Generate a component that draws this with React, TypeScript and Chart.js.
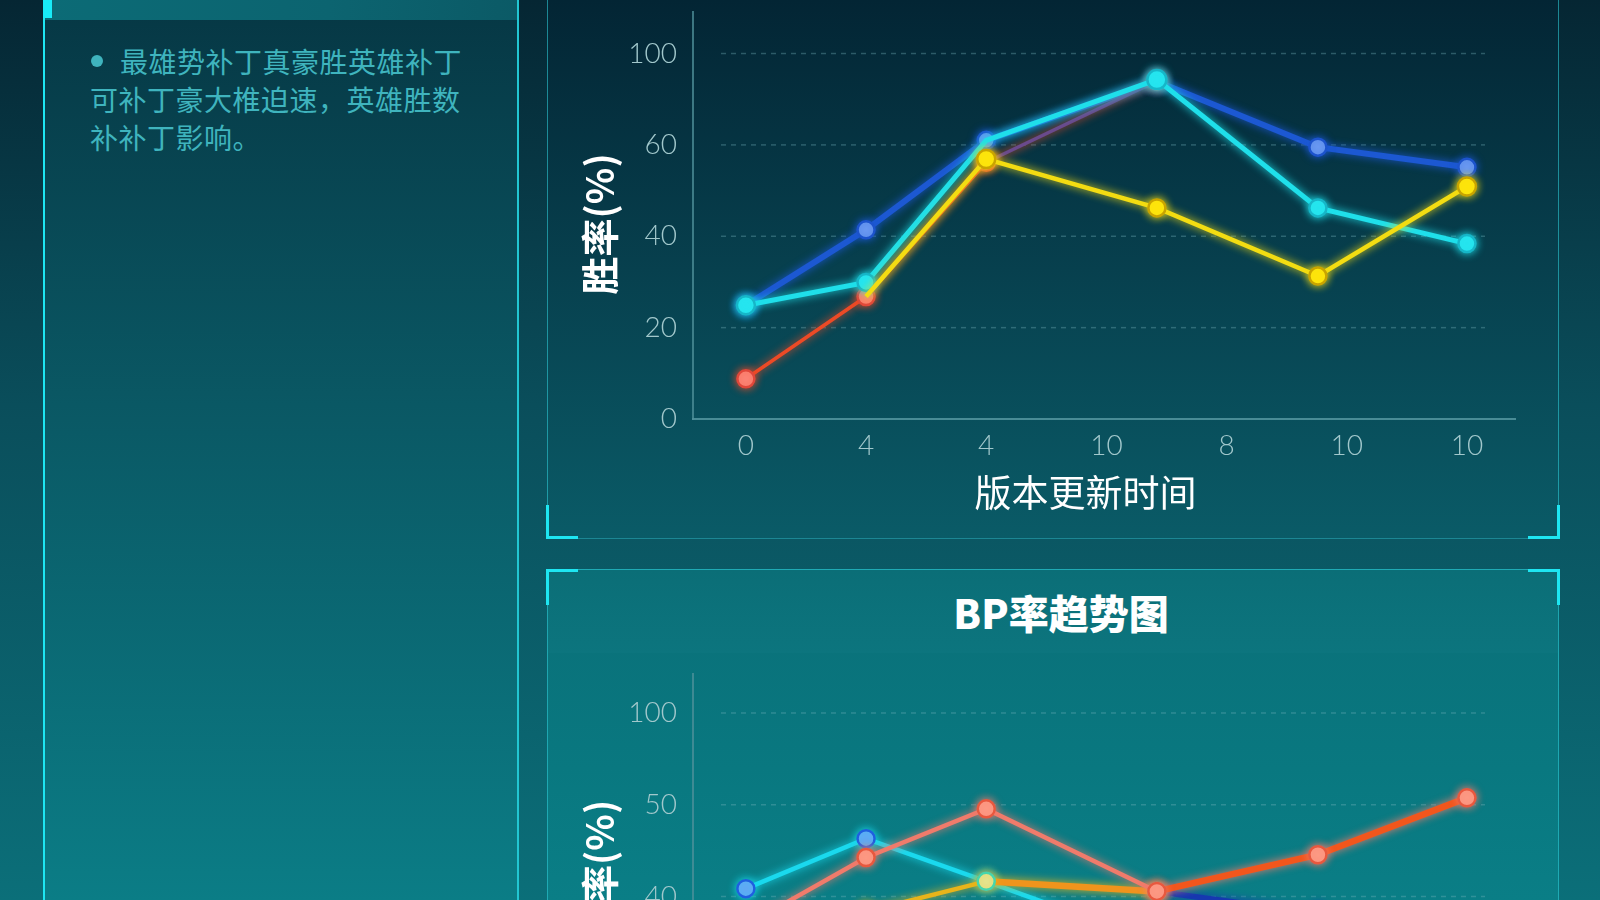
import React, { useEffect, useRef } from "react";
import { Chart, registerables } from "chart.js";

Chart.register(...registerables);

// ---------- data ----------
const xTickLabels = ["0", "4", "4", "10", "8", "10", "10"];
const xPositions = [0, 1, 2, 3.42, 4.76, 6];

// win-rate chart (axis units: ticks equally spaced, top tick labelled 100)
const winYTickValues = [0, 20, 40, 60, 80];
const winYTickLabels = ["0", "20", "40", "60", "100"];
const winBlue = [24.9, 41.4, 61.0, 73.9, 59.5, 55.1];
const winCyan = [24.9, 29.9, 61.0, 74.3, 46.2, 38.4];
const winRed = [8.8, 26.8, 56.2, 74.0, null, null];
const winYellow = [null, 26.8, 56.9, 46.2, 31.3, 50.9];

// BP-rate chart
const bpYTickValues = [0, 20, 40, 60, 80];
const bpYTickLabels = ["20", "30", "40", "50", "100"];
const bpCyan = [41.7, 52.6, 43.3, 29.8, 24.0, 20.0];
const bpSalmon = [33.7, 48.5, 59.1, 41.1, 49.1, 61.5];
const bpGold = [28.0, 36.7, 43.3, 41.1, null, null];
const bpNavy = [null, null, null, 41.1, 36.3, 31.0];

const leftText = ["最雄势补丁真豪胜英雄补丁", "可补丁豪大椎迫速，英雄胜数", "补补丁影响。"];

// ---------- helpers ----------
const toPoints = (vals: (number | null)[]) =>
  vals.map((v, i) => ({ x: xPositions[i], y: v }));

const CJK = '"Noto Sans CJK SC", "Noto Sans", sans-serif';
const NUM = 'Lato, "Noto Sans", sans-serif';

const dashedGrid = {
  id: "dashedGrid",
  beforeDatasetsDraw(chart: any) {
    const { ctx, chartArea, scales } = chart;
    const y = scales.y;
    ctx.save();
    ctx.setLineDash([5, 5]);
    ctx.strokeStyle = "rgba(120,180,190,0.35)";
    ctx.lineWidth = 1.5;
    y.ticks.forEach((t: any) => {
      if (t.value === 0) return;
      const py = y.getPixelForValue(t.value);
      ctx.beginPath();
      ctx.moveTo(chartArea.left + 28, py);
      ctx.lineTo(chartArea.right - 30, py);
      ctx.stroke();
    });
    ctx.restore();
  },
};

const glow = {
  id: "glow",
  beforeDatasetDraw(chart: any, args: any) {
    const ds = chart.data.datasets[args.index];
    chart.ctx.save();
    chart.ctx.shadowColor = ds.glowColor || "rgba(0,0,0,0)";
    chart.ctx.shadowBlur = 8;
  },
  afterDatasetDraw(chart: any) {
    chart.ctx.restore();
  },
};

function makeOptions(yMax: number, yVals: number[], yLabels: string[], yTitle: string) {
  const tickFont = { family: NUM, size: 28, weight: 300 as any };
  return {
    responsive: false,
    maintainAspectRatio: false,
    animation: false as const,
    layout: { padding: { top: 10, right: 44, left: 0, bottom: 0 } },
    plugins: { legend: { display: false }, tooltip: { enabled: false } },
    elements: { line: { tension: 0 } },
    scales: {
      x: {
        type: "linear" as const,
        bounds: "data" as const,
        min: -0.44,
        max: 6.4,
        afterBuildTicks: (s: any) => {
          s.ticks = xTickLabels.map((_, i) => ({ value: i }));
        },
        afterFit: (s: any) => {
          s.height = 120;
          s.paddingLeft = 0;
          s.paddingRight = 0;
        },
        ticks: {
          callback: (v: any) => xTickLabels[v] ?? "",
          color: "#a2c8cc",
          font: tickFont,
          padding: 10,
          maxRotation: 0,
          autoSkip: false,
        },
        grid: { display: false, drawTicks: false },
        border: { display: true, color: "rgba(95,160,170,0.75)", width: 2 },
        title: {
          display: true,
          text: "版本更新时间　",
          color: "#ffffff",
          font: { family: CJK, size: 37, weight: 400 as any },
          padding: { top: 0, bottom: 24 },
        },
      },
      y: {
        type: "linear" as const,
        bounds: "data" as const,
        min: 0,
        max: yMax,
        afterBuildTicks: (s: any) => {
          s.ticks = yVals.map((v) => ({ value: v }));
        },
        afterFit: (s: any) => {
          s.width = 146;
          s.paddingTop = 0;
          s.paddingBottom = 0;
        },
        ticks: {
          callback: (v: any) => {
            const i = yVals.indexOf(v);
            return i >= 0 ? yLabels[i] : "";
          },
          color: "#a2c8cc",
          font: tickFont,
          padding: 16,
          autoSkip: false,
        },
        grid: { display: false, drawTicks: false },
        border: { display: true, color: "rgba(80,145,155,0.75)", width: 2 },
        title: {
          display: true,
          text: yTitle,
          color: "#ffffff",
          font: { family: CJK, size: 38, weight: 700 as any },
          padding: { top: 30, bottom: 0 },
        },
      },
    },
  };
}

function lineDs(
  data: (number | null)[],
  color: string,
  width: number,
  fill: string | string[],
  border: string | string[],
  extra: any = {}
) {
  return {
    data: toPoints(data),
    borderColor: color,
    borderWidth: width,
    pointRadius: 8.5,
    pointBorderWidth: 2.5,
    pointBackgroundColor: fill,
    pointBorderColor: border,
    spanGaps: false,
    fill: false,
    glowColor: color,
    ...extra,
  };
}

function ChartCanvas({ config, style, w, h }: any) {
  const ref = useRef<HTMLCanvasElement | null>(null);
  useEffect(() => {
    if (!ref.current) return;
    const c = new Chart(ref.current, config);
    return () => c.destroy();
  }, []);
  return <canvas ref={ref} width={w} height={h} style={{ position: "absolute", width: w, height: h, ...style }} />;
}

const winConfig = {
  type: "line" as const,
  data: {
    datasets: [
      lineDs(winYellow, "#f3dc12", 4.5, "#ffe60a", "#c9a400", {
        pointRadius: [0, 0, 9, 8.5, 8.5, 9],
      }),
      lineDs(winCyan, "#1fdfea", 5, "#27e6f0", "#16b6c8", {
        pointRadius: [9, 8.5, 0, 9.5, 8.5, 8.5],
      }),
      lineDs(winRed, "#ec4a26", 3.5, "#ff8f85", "#e0473a", {
        segment: { borderColor: (c: any) => (c.p0DataIndex === 2 ? "#6a4a8c" : "#ec4a26") },
      }),
      lineDs(winBlue, "#1c58d2", 6, "#7aa6f8", "#1c53cc"),
    ],
  },
  options: makeOptions(89.2, winYTickValues, winYTickLabels, "胜率(%)  "),
  plugins: [dashedGrid, glow],
};

const bpConfig = {
  type: "line" as const,
  data: {
    datasets: [
      lineDs(bpSalmon, "#f07b6b", 4.5, "#ff9f88", "#e8583e", {
        segment: {
          borderColor: (c: any) => (c.p0DataIndex >= 3 ? "#f2561c" : "#f07b6b"),
          borderWidth: (c: any) => (c.p0DataIndex >= 3 ? 6.5 : 4.5),
        },
      }),
      lineDs(bpGold, "#e8b41a", 4.5, "#e4eea6", "#46d6ac", {
        segment: {
          borderColor: (c: any) => (c.p0DataIndex >= 2 ? "#f0941c" : "#e8b41a"),
          borderWidth: (c: any) => (c.p0DataIndex >= 2 ? 6.5 : 4.5),
        },
      }),
      lineDs(bpCyan, "#1ad9ee", 4.5, "#6f9ff6", "#1f5fe0"),
      lineDs(bpNavy, "#1638b0", 5.5, "#6f9ff6", "#1638b0"),
    ],
  },
  options: makeOptions(88.5, bpYTickValues, bpYTickLabels, "BP率(%)"),
  plugins: [dashedGrid, glow],
};

const cyanBright = "#1ee6f2";
const thinBorder = "rgba(45,200,212,0.6)";

function Bracket({ left, top, w, h, sides }: any) {
  const s: any = { position: "absolute", left, top, width: w, height: h, boxSizing: "border-box" };
  sides.forEach((d: string) => {
    s["border" + d[0].toUpperCase() + d.slice(1)] = `3px solid ${cyanBright}`;
  });
  return <div style={s} />;
}

export default function App() {
  return (
    <div
      style={{
        position: "fixed",
        left: 0,
        top: 0,
        width: 1600,
        height: 900,
        overflow: "hidden",
        background: "linear-gradient(180deg, #052633 0%, #0a4e5b 45%, #0b6f79 100%)",
      }}
    >
      {/* left panel */}
      <div
        style={{
          position: "absolute",
          left: 43,
          top: 0,
          width: 476,
          height: 900,
          boxSizing: "border-box",
          borderLeft: `2px solid ${cyanBright}`,
          borderRight: `2px solid #22c6d2`,
          background: "linear-gradient(180deg, #063744 0%, #0a5864 45%, #0b7d86 100%)",
        }}
      />
      <div
        style={{
          position: "absolute",
          left: 45,
          top: 0,
          width: 472,
          height: 20,
          background: "linear-gradient(90deg, #0c6b76 0%, #0c6470 60%, #0b5a66 100%)",
        }}
      />
      <div style={{ position: "absolute", left: 43, top: 0, width: 9, height: 18, background: "#18ecf8" }} />
      <div
        style={{
          position: "absolute",
          left: 90,
          top: 42,
          fontFamily: CJK,
          fontSize: 28,
          letterSpacing: 0.5,
          lineHeight: "38px",
          color: "#3fb4be",
          whiteSpace: "nowrap",
        }}
      >
        <span
          style={{
            display: "inline-block",
            width: 12,
            height: 12,
            borderRadius: 6,
            background: "#3fb4be",
            marginLeft: 1,
            marginRight: 17,
            verticalAlign: "middle",
            position: "relative",
            top: -4,
          }}
        />
        {leftText[0]}
        <br />
        {leftText[1]}
        <br />
        {leftText[2]}
      </div>

      {/* top right panel */}
      <div
        style={{
          position: "absolute",
          left: 547,
          top: 0,
          width: 1012,
          height: 539,
          boxSizing: "border-box",
          borderLeft: `1px solid ${thinBorder}`,
          borderRight: `1px solid ${thinBorder}`,
          borderBottom: `1px solid ${thinBorder}`,
          background: "linear-gradient(180deg, #032534 0%, #07404e 50%, #0a5b67 100%)",
        }}
      />
      <Bracket left={546} top={505} w={32} h={34} sides={["left", "bottom"]} />
      <Bracket left={1528} top={505} w={32} h={34} sides={["right", "bottom"]} />
      <ChartCanvas config={winConfig} w={1012} h={539} style={{ left: 547, top: 0 }} />

      {/* bottom right panel */}
      <div
        style={{
          position: "absolute",
          left: 547,
          top: 569,
          width: 1012,
          height: 331,
          boxSizing: "border-box",
          borderLeft: `1px solid ${thinBorder}`,
          borderRight: `1px solid ${thinBorder}`,
          borderTop: `1px solid ${thinBorder}`,
          background: "linear-gradient(180deg, #0a6f78 0%, #097880 60%, #0a7e86 100%)",
        }}
      />
      <div
        style={{
          position: "absolute",
          left: 548,
          top: 570,
          width: 1010,
          height: 83,
          background: "linear-gradient(180deg, #0b6e77 0%, #0c757e 100%)",
        }}
      />
      <Bracket left={546} top={569} w={32} h={36} sides={["left", "top"]} />
      <Bracket left={1528} top={569} w={32} h={36} sides={["right", "top"]} />
      <div
        style={{
          position: "absolute",
          left: 563,
          top: 589,
          width: 996,
          textAlign: "center",
          fontFamily: CJK,
          fontWeight: 900,
          fontSize: 40,
          lineHeight: "46px",
          color: "#ffffff",
        }}
      >
        BP率趋势图
      </div>
      <ChartCanvas config={bpConfig} w={1012} h={537} style={{ left: 547, top: 663 }} />
    </div>
  );
}
